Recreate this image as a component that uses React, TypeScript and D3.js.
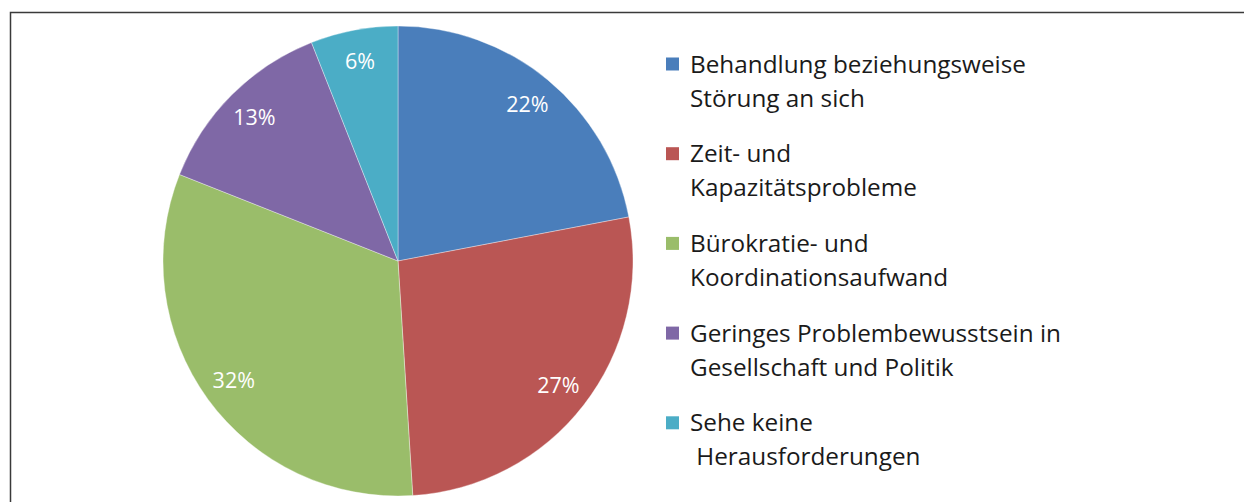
import * as d3 from 'd3';
import React from 'react';

const categories = [
  ["Behandlung beziehungsweise", "Störung an sich"],
  ["Zeit- und", "Kapazitätsprobleme"],
  ["Bürokratie- und", "Koordinationsaufwand"],
  ["Geringes Problembewusstsein in", "Gesellschaft und Politik"],
  ["Sehe keine", " Herausforderungen"],
];
const shares = [22, 27, 32, 13, 6];
const colors = ["#4A7EBB", "#BA5654", "#9ABD6A", "#7F68A6", "#4BADC6"];

const width = 1244;
const height = 502;
const cx = 398;
const cy = 261;
const radius = 235;
const labelRadius = 203;

function App() {
  const ref = React.useRef<SVGSVGElement>(null);

  React.useEffect(() => {
    const svg = d3.select(ref.current);
    svg.selectAll("*").remove();

    // outer frame, runs off the right and bottom edges
    svg.append("rect")
      .attr("x", 10.5).attr("y", 12.5)
      .attr("width", 1300).attr("height", 600)
      .attr("fill", "white")
      .attr("stroke", "#3a3a3a")
      .attr("stroke-width", 1.5);

    const arcs = d3.pie<number>().sort(null).value(d => d)(shares);
    const arc = d3.arc<d3.PieArcDatum<number>>().innerRadius(0).outerRadius(radius);
    const arcLabel = d3.arc<d3.PieArcDatum<number>>().innerRadius(labelRadius).outerRadius(labelRadius);

    const g = svg.append("g").attr("transform", `translate(${cx},${cy})`);
    g.selectAll("path")
      .data(arcs)
      .join("path")
        .attr("d", arc)
        .attr("fill", (d, i) => colors[i])
        .attr("stroke", "#ffffff")
        .attr("stroke-opacity", 0.6)
        .attr("stroke-width", 0.6);

    g.selectAll("text")
      .data(arcs)
      .join("text")
        .attr("transform", d => `translate(${arcLabel.centroid(d)})`)
        .attr("text-anchor", "middle")
        .attr("dy", "0.35em")
        .attr("fill", "white")
        .attr("font-family", "'Open Sans', sans-serif")
        .attr("font-size", 21.5)
        .text(d => `${d.data}%`);

    const legend = svg.append("g")
      .selectAll("g")
      .data(categories)
      .join("g")
        .attr("transform", (d, i) => `translate(666,${64 + i * 89.7})`);

    legend.append("rect")
      .attr("x", 0).attr("y", -6.5)
      .attr("width", 13).attr("height", 13)
      .attr("fill", (d, i) => colors[i]);

    legend.append("text")
      .attr("font-family", "'Open Sans', sans-serif")
      .attr("font-size", 24.3)
      .attr("fill", "#1a1a1a")
      .attr("style", "white-space: pre")
      .selectAll("tspan")
      .data(d => d)
      .join("tspan")
        .attr("x", 24)
        .attr("y", (d, i) => 8.5 + i * 34)
        .text(d => d);
  }, []);

  return (
    <svg ref={ref} width={width} height={height}
      style={{ position: "absolute", left: 0, top: 0, display: "block" }} />
  );
}

export default App;
